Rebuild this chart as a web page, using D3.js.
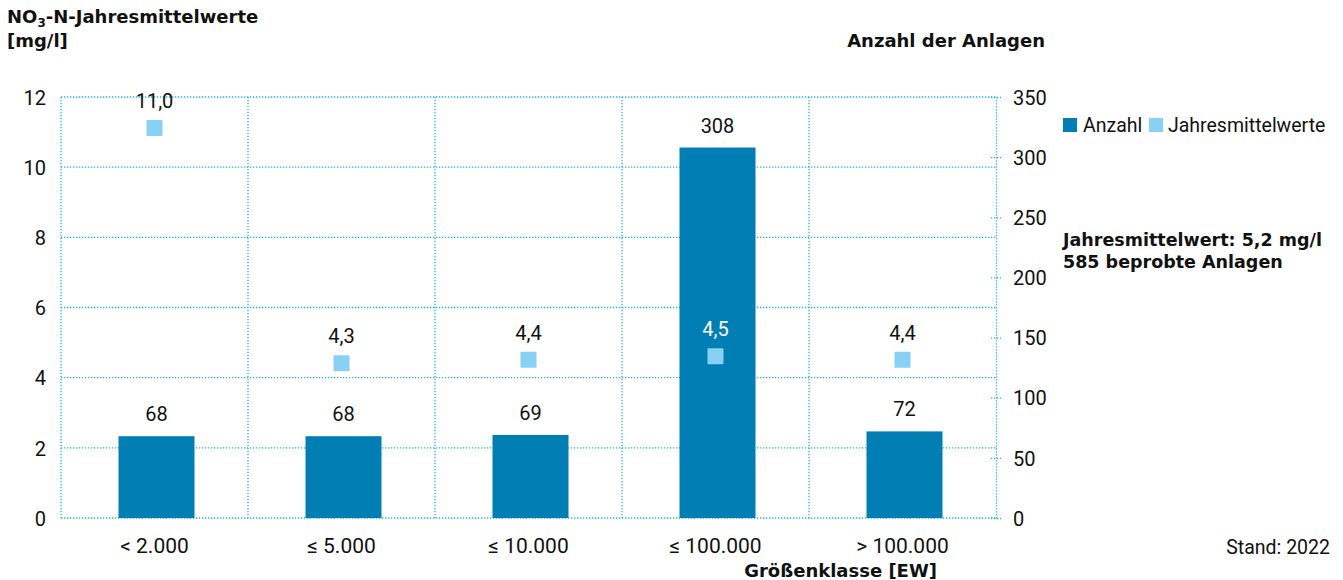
<!DOCTYPE html>
<html><head><meta charset="utf-8">
<script src="https://cdn.jsdelivr.net/npm/d3@7"></script>
<style>
body{margin:0;background:#fff;}
svg{font-family:Roboto,"Liberation Sans",sans-serif;}
.b{font-family:"DejaVu Sans",sans-serif;font-weight:bold;}
</style></head>
<body><svg id="c" width="1343" height="580"></svg>
<script>
const categories = ["< 2.000","≤ 5.000","≤ 10.000","≤ 100.000","> 100.000"];
const anzahl = [68,68,69,308,72];
const jahresmittel = [11.0,4.3,4.4,4.5,4.4];
const leftTicks = [0,2,4,6,8,10,12];
const rightTicks = [0,50,100,150,200,250,300,350];

const svg = d3.select("#c");
const L=61, R=996, T=97, B=518;
const grid="#1cb6ec", barC="#017fb5", sqC="#88d1f4";
const x = d3.scaleBand().domain(categories).range([L,R]).padding(0);
const yL = d3.scaleLinear().domain([0,12]).range([B,T]);
const yR = d3.scaleLinear().domain([0,350]).range([B,T]);
const bw = x.bandwidth();
const fmt = v => v.toFixed(1).replace(".",",");

// grid
const g = svg.append("g");
leftTicks.forEach(t=>{
  g.append("line").attr("x1",L).attr("x2",R).attr("y1",yL(t)).attr("y2",yL(t))
   .attr("stroke",grid).attr("stroke-width",1.3).attr("stroke-dasharray","1.3,1.7");
});
categories.forEach(c=>{
  g.append("line").attr("x1",x(c)).attr("x2",x(c)).attr("y1",T).attr("y2",B)
   .attr("stroke",grid).attr("stroke-width",1.3).attr("stroke-dasharray","1.3,1.7");
});
// right axis
const ra = d3.axisRight(yR).tickValues(rightTicks).tickSize(0).tickPadding(17);
const rg = svg.append("g").attr("transform",`translate(${R},0)`).call(ra);
rg.select(".domain").attr("stroke",grid).attr("stroke-width",1.3).attr("stroke-dasharray","1.3,1.7");
rg.selectAll(".tick").append("line").attr("x1",-5).attr("x2",5).attr("stroke",grid).attr("stroke-width",1.3).attr("stroke-dasharray","1.3,1.7");
rg.selectAll("text").attr("font-size",20).attr("fill","#111").attr("font-family","Roboto").attr("dy","0.36em");
// left axis
const la = d3.axisLeft(yL).tickValues(leftTicks).tickSize(0).tickPadding(15);
const lg = svg.append("g").attr("transform",`translate(${L},0)`).call(la);
lg.select(".domain").remove();
lg.selectAll("text").attr("font-size",20).attr("fill","#111").attr("font-family","Roboto").attr("dy","0.36em");
// x axis
const xa = d3.axisBottom(x).tickSize(0).tickPadding(20);
const xg = svg.append("g").attr("transform",`translate(0,${B})`).call(xa);
xg.select(".domain").remove();
xg.selectAll("text").attr("font-size",21).attr("fill","#111").attr("font-family","Roboto");

// bars
const bwBar = 76;
svg.selectAll("rect.bar").data(anzahl).join("rect").attr("class","bar")
  .attr("x",(d,i)=>x(categories[i])+bw/2-bwBar/2+2).attr("width",bwBar)
  .attr("y",d=>yR(d)).attr("height",d=>B-yR(d)).attr("fill",barC);
svg.selectAll("text.bl").data(anzahl).join("text").attr("class","bl")
  .attr("x",(d,i)=>x(categories[i])+bw/2+2).attr("y",d=>yR(d)-15)
  .attr("text-anchor","middle").attr("font-size",20).attr("fill","#111").text(d=>d);

// squares
const sq=16;
svg.selectAll("rect.sq").data(jahresmittel).join("rect").attr("class","sq")
  .attr("x",(d,i)=>x(categories[i])+bw/2-sq/2).attr("y",d=>yL(d)-4-sq/2)
  .attr("width",sq).attr("height",sq).attr("fill",sqC).attr("rx",1);
svg.selectAll("text.sl").data(jahresmittel).join("text").attr("class","sl")
  .attr("x",(d,i)=>x(categories[i])+bw/2).attr("y",d=>yL(d)-24)
  .attr("text-anchor","middle").attr("font-size",20)
  .attr("fill",(d,i)=> (yL(d)-24 > yR(anzahl[i])+4) ? "#fff" : "#111").text(fmt);

// titles
const t1 = svg.append("text").attr("class","b").attr("x",7).attr("y",23).attr("font-size",18).attr("fill","#111");
t1.append("tspan").text("NO");
t1.append("tspan").text("3").attr("font-size",12).attr("dy",4);
t1.append("tspan").text("-N-Jahresmittelwerte").attr("dy",-4);
svg.append("text").attr("class","b").attr("x",7).attr("y",47).attr("font-size",18).attr("fill","#111").text("[mg/l]");
svg.append("text").attr("class","b").attr("x",1045).attr("y",47).attr("text-anchor","end").attr("font-size",18).attr("fill","#111").text("Anzahl der Anlagen");
svg.append("text").attr("class","b").attr("x",937).attr("y",577).attr("text-anchor","end").attr("font-size",18).attr("fill","#111").text("Größenklasse [EW]");
svg.append("text").attr("x",1330).attr("y",554).attr("text-anchor","end").attr("font-size",19.5).attr("fill","#111").text("Stand: 2022");

// legend
const leg = svg.append("g");
leg.append("rect").attr("x",1063).attr("y",118).attr("width",14).attr("height",14).attr("fill",barC);
leg.append("text").attr("x",1083).attr("y",132).attr("font-size",19.5).attr("fill","#111").text("Anzahl");
leg.append("rect").attr("x",1149).attr("y",118).attr("width",14).attr("height",14).attr("fill",sqC);
leg.append("text").attr("x",1168).attr("y",132).attr("font-size",19.5).attr("fill","#111").text("Jahresmittelwerte");

svg.append("text").attr("class","b").attr("x",1063).attr("y",246).attr("font-size",17.5).attr("fill","#111").text("Jahresmittelwert: 5,2 mg/l");
svg.append("text").attr("class","b").attr("x",1063).attr("y",268).attr("font-size",17.5).attr("fill","#111").text("585 beprobte Anlagen");
</script></body></html>
